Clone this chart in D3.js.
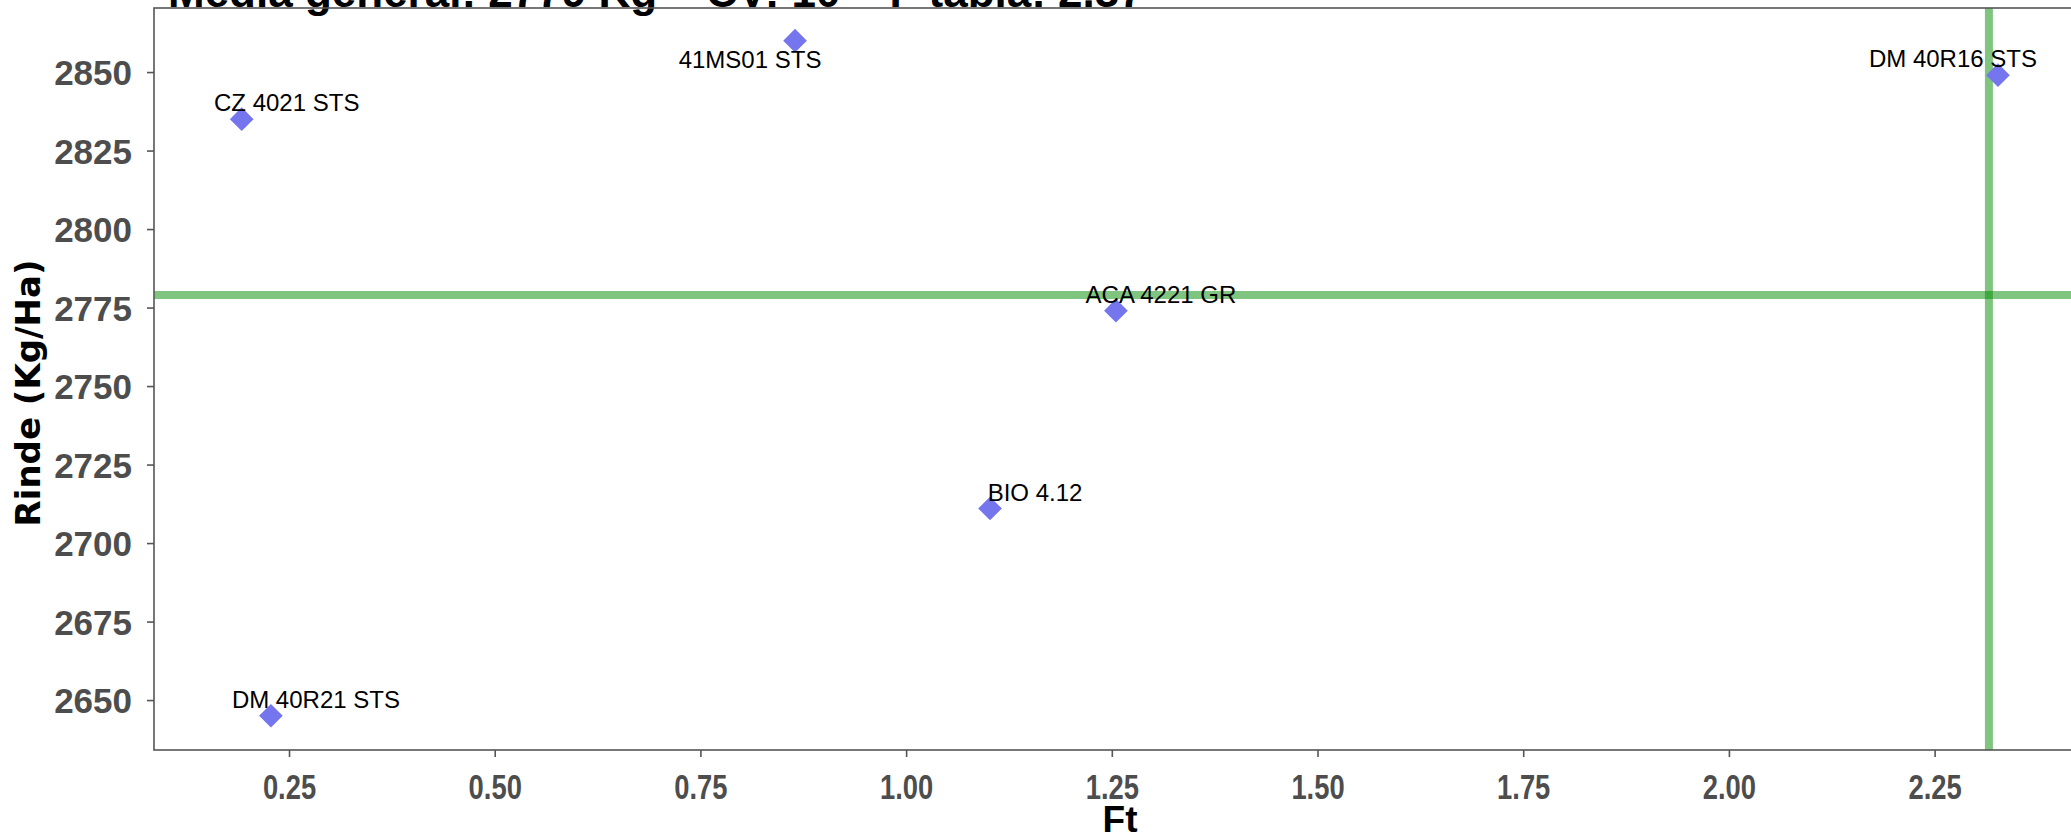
<!DOCTYPE html>
<html>
<head>
<meta charset="utf-8">
<script src="https://cdn.jsdelivr.net/npm/d3@7"></script>
<style>
  html, body { margin: 0; padding: 0; background: #ffffff; }
  svg { display: block; }
</style>
</head>
<body>
<svg id="chart" width="2071" height="835"></svg>
<script>
// ---- data ----
const genotypes = ["CZ 4021 STS", "DM 40R21 STS", "41MS01 STS", "ACA 4221 GR", "BIO 4.12", "DM 40R16 STS"];
const ftValues = [0.1925, 0.228, 0.865, 1.255, 1.102, 2.327];
const rindeValues = [2835, 2645, 2860, 2774, 2711, 2849];
const mediaGeneral = 2779;
const fTablaLine = 2.316;
const xTicks = [0.25, 0.50, 0.75, 1.00, 1.25, 1.50, 1.75, 2.00, 2.25];
const yTicks = [2650, 2675, 2700, 2725, 2750, 2775, 2800, 2825, 2850];
const titleText = "Media general: 2779 Kg \u2013 CV: 10 \u2013 F tabla: 2.37";
const xTitle = "Ft";
const yTitle = "Rinde (Kg/Ha)";

// ---- layout ----
const W = 2071, H = 835;
const panel = { left: 154, top: 8, right: 2086, bottom: 750 };
const svg = d3.select("#chart");

const x = d3.scaleLinear().domain([0.0859, 2.434]).range([panel.left, panel.right]);
const y = d3.scaleLinear().domain([2634.1, 2870.4]).range([panel.bottom, panel.top]);

const data = genotypes.map((g, i) => ({ name: g, ft: ftValues[i], rinde: rindeValues[i] }));

const axisColor = "#555555";
const tickTextColor = "#4D4D4D";
const sans = "Liberation Sans, Arial, sans-serif";
const wide = "DejaVu Sans, Verdana, sans-serif";

svg.append("rect").attr("x", 0).attr("y", 0).attr("width", W).attr("height", H).attr("fill", "#ffffff");

// title (partially cut off at the top)
svg.append("text")
  .attr("x", 168).attr("y", 7)
  .attr("font-family", sans)
  .attr("font-weight", "bold").attr("font-size", 44)
  .attr("fill", "#000")
  .text(titleText);

svg.append("clipPath").attr("id", "pclip").append("rect")
  .attr("x", panel.left).attr("y", panel.top)
  .attr("width", panel.right - panel.left).attr("height", panel.bottom - panel.top);
const content = svg.append("g").attr("clip-path", "url(#pclip)");

// reference lines
content.append("line")
  .attr("x1", panel.left).attr("x2", panel.right)
  .attr("y1", y(mediaGeneral)).attr("y2", y(mediaGeneral))
  .attr("stroke", "#008B00").attr("stroke-opacity", 0.5).attr("stroke-width", 8);
content.append("line")
  .attr("x1", x(fTablaLine)).attr("x2", x(fTablaLine))
  .attr("y1", panel.top).attr("y2", panel.bottom)
  .attr("stroke", "#008B00").attr("stroke-opacity", 0.5).attr("stroke-width", 8);

// points (diamonds)
const sym = d3.symbol().type(d3.symbolSquare).size(280);
content.selectAll("path.pt").data(data).join("path")
  .attr("class", "pt")
  .attr("d", sym)
  .attr("transform", d => `translate(${x(d.ft)},${y(d.rinde)}) rotate(45)`)
  .attr("fill", "#7575EE");

// labels with a simple repel-like placement
const labelFont = 24;
const labels = content.selectAll("text.lbl").data(data).join("text")
  .attr("class", "lbl")
  .attr("font-family", sans)
  .attr("font-size", labelFont)
  .attr("fill", "#000")
  .attr("text-anchor", "middle")
  .text(d => d.name);

labels.each(function(d) {
  const w = this.getComputedTextLength();
  const px = x(d.ft), py = y(d.rinde);
  const dxOff = 45, upOff = -8, downOff = 27;
  const candidates = [
    [px + dxOff, py + upOff],
    [px - dxOff, py + upOff],
    [px - dxOff, py + downOff],
    [px + dxOff, py + downOff]
  ];
  let chosen = candidates[0];
  for (const c of candidates) {
    const left = c[0] - w / 2, right = c[0] + w / 2;
    const top = c[1] - labelFont * 0.75 - 8, bottom = c[1] + 6;
    if (left >= panel.left && right <= W && top >= panel.top && bottom <= panel.bottom) { chosen = c; break; }
  }
  d3.select(this).attr("x", chosen[0]).attr("y", chosen[1]);
});

// panel border
svg.append("rect")
  .attr("x", panel.left).attr("y", panel.top)
  .attr("width", panel.right - panel.left).attr("height", panel.bottom - panel.top)
  .attr("fill", "none").attr("stroke", axisColor).attr("stroke-width", 1.6);

// x axis
const xAxis = svg.append("g")
  .attr("transform", `translate(0,${panel.bottom})`)
  .call(d3.axisBottom(x).tickValues(xTicks).tickFormat(d3.format(".2f")).tickSize(7).tickSizeOuter(0));
xAxis.select(".domain").remove();
xAxis.selectAll(".tick line").attr("stroke", axisColor).attr("stroke-width", 1.6);
xAxis.selectAll(".tick text")
  .attr("y", 23).attr("dy", "0.71em")
  .attr("transform", "scale(0.76,1)")
  .attr("font-family", sans)
  .attr("font-weight", "bold").attr("font-size", 36)
  .attr("fill", tickTextColor);

// y axis
const yAxis = svg.append("g")
  .attr("transform", `translate(${panel.left},0)`)
  .call(d3.axisLeft(y).tickValues(yTicks).tickFormat(d3.format("d")).tickSize(7).tickSizeOuter(0));
yAxis.select(".domain").remove();
yAxis.selectAll(".tick line").attr("stroke", axisColor).attr("stroke-width", 1.6);
yAxis.selectAll(".tick text")
  .attr("x", -22).attr("dy", "0.36em")
  .attr("font-family", sans)
  .attr("font-weight", "bold").attr("font-size", 35)
  .attr("fill", tickTextColor);

// axis titles
svg.append("text")
  .attr("x", (panel.left + panel.right) / 2).attr("y", 832)
  .attr("text-anchor", "middle")
  .attr("font-family", sans)
  .attr("font-weight", "bold").attr("font-size", 37)
  .attr("fill", "#000")
  .text(xTitle);

svg.append("text")
  .attr("transform", `translate(40,${(panel.top + panel.bottom) / 2 + 14}) rotate(-90)`)
  .attr("text-anchor", "middle")
  .attr("font-family", wide)
  .attr("font-weight", "bold").attr("font-size", 34)
  .attr("fill", "#000")
  .text(yTitle);
</script>
</body>
</html>
